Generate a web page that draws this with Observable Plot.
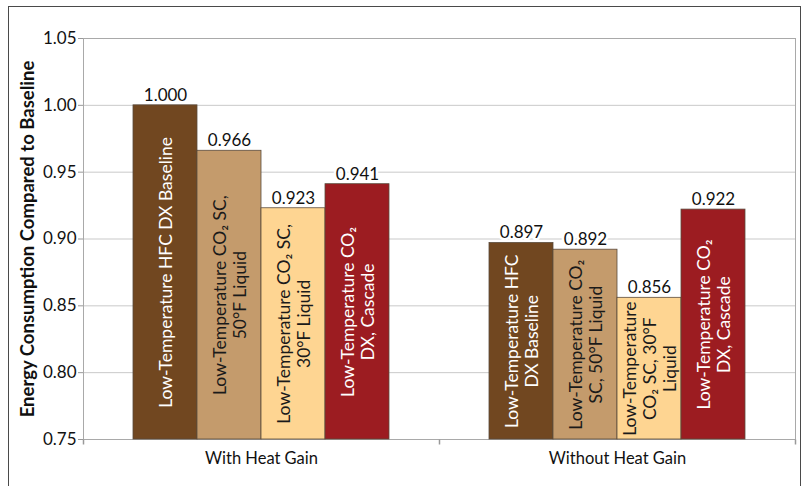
<!DOCTYPE html>
<html>
<head>
<meta charset="utf-8">
<script src="https://cdn.jsdelivr.net/npm/d3@7"></script>
<script src="https://cdn.jsdelivr.net/npm/@observablehq/plot@0.6"></script>
<style>
  html, body { margin: 0; padding: 0; background: #fff; }
  #wrap { position: relative; width: 805px; height: 486px; overflow: hidden; }
  #border { position: absolute; left: 8px; top: 6px; width: 793px; height: 500px; border: 1px solid #4a4a4a; box-sizing: border-box; }
  #chart { position: absolute; left: 0; top: 0; }
</style>
</head>
<body>
<div id="wrap"><div id="border"></div><div id="chart"></div></div>
<script>
const groups = ["With Heat Gain", "Without Heat Gain"];
const series = ["HFC DX Baseline", "CO2 SC 50F Liquid", "CO2 SC 30F Liquid", "CO2 DX Cascade"];
const withHeatGain = [1.000, 0.966, 0.923, 0.941];
const withoutHeatGain = [0.897, 0.892, 0.856, 0.922];
const labelsWith = [
  "Low-Temperature HFC DX Baseline",
  "Low-Temperature CO₂ SC,\n50°F Liquid",
  "Low-Temperature CO₂ SC,\n30°F Liquid",
  "Low-Temperature CO₂\nDX, Cascade"
];
const labelsWithout = [
  "Low-Temperature HFC\nDX Baseline",
  "Low-Temperature CO₂\nSC, 50°F Liquid",
  "Low-Temperature\nCO₂ SC, 30°F\nLiquid",
  "Low-Temperature CO₂\nDX, Cascade"
];
const barColors = ["#714720", "#c49b6c", "#fed592", "#9c1c21"];
const labelColors = ["#ffffff", "#1a1a1a", "#1a1a1a", "#ffffff"];
const yTicks = [0.75, 0.80, 0.85, 0.90, 0.95, 1.00, 1.05];
const yTitle = "Energy Consumption Compared to Baseline";

const data = [];
series.forEach((s, i) => data.push({group: groups[0], series: s, value: withHeatGain[i], label: labelsWith[i], tc: labelColors[i]}));
series.forEach((s, i) => data.push({group: groups[1], series: s, value: withoutHeatGain[i], label: labelsWithout[i], tc: labelColors[i]}));
const yMin = yTicks[0];
const fmt = d3.format(".3f");

const tickSymbol = {draw(ctx) { ctx.moveTo(0, 0); ctx.lineTo(0, 5); }};

const chart = Plot.plot({
  width: 805,
  height: 486,
  marginLeft: 83,
  marginRight: 10,
  marginTop: 38,
  marginBottom: 47,
  style: {fontFamily: "Lato, sans-serif", fontSize: "15px", color: "#111", background: "transparent"},
  fx: {domain: groups, padding: 0, label: null},
  x: {domain: series, paddingInner: 0, paddingOuter: 0.75, axis: null},
  y: {domain: [yTicks[0], yTicks[yTicks.length - 1]], label: null},
  color: {domain: series, range: barColors},
  marks: [
    Plot.gridY(yTicks, {stroke: "#c9c9c9", strokeOpacity: 1, strokeWidth: 1}),
    Plot.frame({facet: "super", stroke: "#a9a9a9"}),
    Plot.barY(data, {fx: "group", x: "series", y1: () => yMin, y2: "value", fill: "series", stroke: "#5b4b3d", strokeWidth: 0.8}),
    Plot.text(data, {fx: "group", x: "series", y: d => (yMin + d.value) / 2, text: "label", rotate: -90, fill: "tc", fontSize: 17.5, lineHeight: 1.15}),
    Plot.text(data, {fx: "group", x: "series", y: "value", text: d => fmt(d.value), dy: -10, fontSize: 17, fill: "#111", stroke: "white", strokeWidth: 5}),
    Plot.dot([0], {frameAnchor: "bottom-left", symbol: tickSymbol, r: 5, stroke: "#999", fill: "none"}),
    Plot.dot([0], {frameAnchor: "bottom-right", symbol: tickSymbol, r: 5, stroke: "#999", fill: "none", facetAnchor: "right"}),
    Plot.axisY(yTicks, {tickFormat: ".2f", tickSize: 5, tickPadding: 2, stroke: "#999", fontSize: 17, label: null}),
    Plot.axisY({ticks: [], label: yTitle, labelAnchor: "center", labelOffset: 63, fontSize: 18.5, fontWeight: "bold", labelArrow: "none"}),
    Plot.axisFx({anchor: "bottom", tickSize: 0, tickPadding: 13, fontSize: 16.5, label: null})
  ]
});
document.getElementById("chart").append(chart);
</script>
</body>
</html>
